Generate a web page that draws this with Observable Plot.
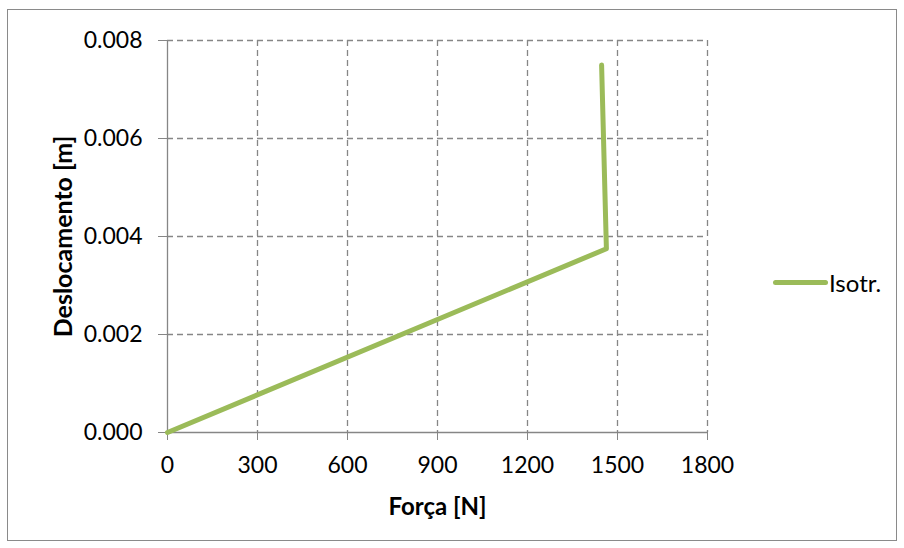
<!DOCTYPE html>
<html><head><meta charset="utf-8">
<script src="https://cdn.jsdelivr.net/npm/d3@7"></script>
<script src="https://cdn.jsdelivr.net/npm/@observablehq/plot@0.6"></script>
<style>
body{margin:0;background:#fff;font-family:Lato,"Open Sans",sans-serif;}
#wrap{position:relative;width:904px;height:548px;}
#border{position:absolute;left:7px;top:9px;width:888px;height:530px;border:1px solid #8a8a8a;pointer-events:none;}
#legend{position:absolute;left:773px;top:268px;display:flex;align-items:center;font-size:24px;color:#000;}
#legend .sw{width:55px;height:5px;background:#9BBB59;border-radius:3px;margin-right:1px;}
</style></head>
<body>
<div id="wrap"><div id="chart"></div><div id="border"></div>
<div id="legend"><div class="sw"></div><span>Isotr.</span></div></div>
<script>
const forca = [0, 1463, 1447];
const desloc = [0, 0.00375, 0.0075];
const xTicks = [0, 300, 600, 900, 1200, 1500, 1800];
const yTicks = [0, 0.002, 0.004, 0.006, 0.008];
const seriesName = "Isotr.";
const data = forca.map((f, i) => ({f, d: desloc[i]}));
const chart = Plot.plot({
  width: 904, height: 548,
  marginLeft: 167, marginRight: 197, marginTop: 40, marginBottom: 116,
  style: {fontFamily: "Lato, 'Open Sans', sans-serif", fontSize: "23px", color: "#000", background: "transparent"},
  x: {domain: [0, 1800], ticks: xTicks, label: null},
  y: {domain: [0, 0.008], ticks: yTicks, label: null},
  marks: [
    Plot.gridX(xTicks.filter(v => v > 0), {stroke: "#868686", strokeOpacity: 1, strokeDasharray: "6,4", strokeWidth: 1.3}),
    Plot.gridY(yTicks.filter(v => v > 0), {stroke: "#868686", strokeOpacity: 1, strokeDasharray: "6,4", strokeWidth: 1.3}),
    Plot.ruleX([0], {stroke: "#868686", strokeWidth: 1.3}),
    Plot.ruleY([0], {stroke: "#868686", strokeWidth: 1.3}),
    Plot.axisX({ticks: xTicks, tickSize: 8, tickPadding: 16, stroke: "#868686", tickFormat: d => String(d), label: null, fontSize: 23}),
    Plot.axisY({ticks: yTicks, tickSize: 9, tickPadding: 16, stroke: "#868686", tickFormat: d => d.toFixed(3), label: null, fontSize: 23}),
    Plot.line(data, {x: "f", y: "d", stroke: "#9BBB59", strokeWidth: 5, strokeLinecap: "round", strokeLinejoin: "round"}),
    Plot.text(["Força [N]"], {frameAnchor: "bottom", dy: 82, fontWeight: "bold", fontSize: 24}),
    Plot.text(["Deslocamento [m]"], {frameAnchor: "left", dx: -104, rotate: -90, textAnchor: "middle", fontWeight: "bold", fontSize: 25})
  ]
});
document.getElementById("chart").appendChild(chart);
</script>
</body></html>
